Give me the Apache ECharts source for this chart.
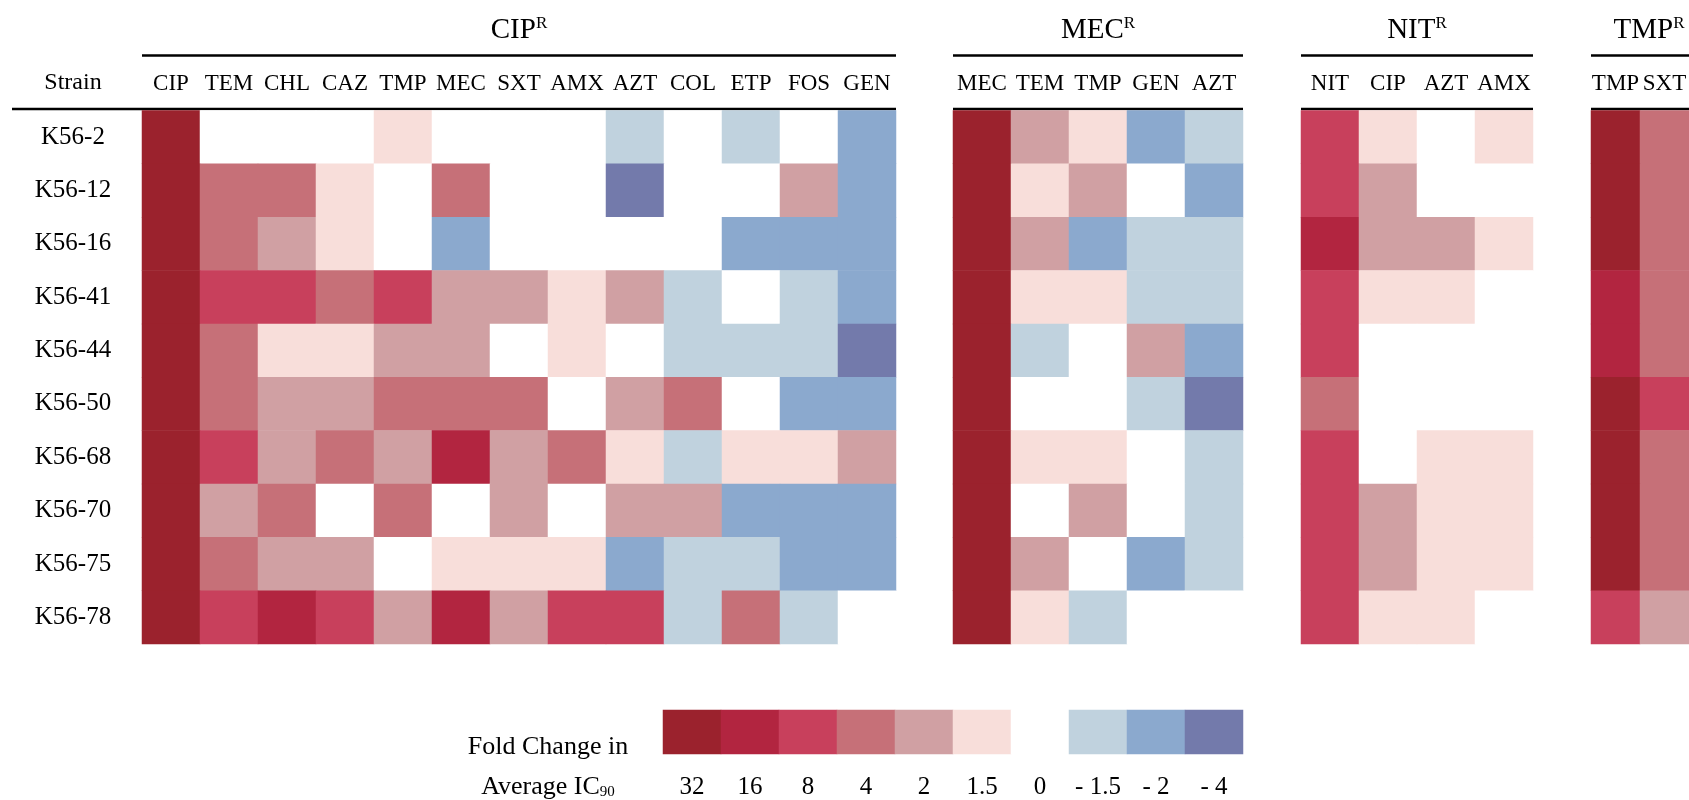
<!DOCTYPE html>
<html>
<head>
<meta charset="utf-8">
<script src="https://cdn.jsdelivr.net/npm/echarts@6/dist/echarts.min.js"></script>
<style>
  html, body { margin: 0; padding: 0; background: #ffffff; }
  #chart { width: 1689px; height: 800px; }
</style>
</head>
<body>
<div id="chart"></div>
<script>
// Strains (rows) shared by every panel
const strains = ['K56-2', 'K56-12', 'K56-16', 'K56-41', 'K56-44', 'K56-50', 'K56-68', 'K56-70', 'K56-75', 'K56-78'];

// CIP-resistant panel
const cipDrugs = ['CIP', 'TEM', 'CHL', 'CAZ', 'TMP', 'MEC', 'SXT', 'AMX', 'AZT', 'COL', 'ETP', 'FOS', 'GEN'];
const cipFold = [
  [32, 0, 0, 0, 1.5, 0, 0, 0, -1.5, 0, -1.5, 0, -2],
  [32, 4, 4, 1.5, 0, 4, 0, 0, -4, 0, 0, 2, -2],
  [32, 4, 2, 1.5, 0, -2, 0, 0, 0, 0, -2, -2, -2],
  [32, 8, 8, 4, 8, 2, 2, 1.5, 2, -1.5, 0, -1.5, -2],
  [32, 4, 1.5, 1.5, 2, 2, 0, 1.5, 0, -1.5, -1.5, -1.5, -4],
  [32, 4, 2, 2, 4, 4, 4, 0, 2, 4, 0, -2, -2],
  [32, 8, 2, 4, 2, 16, 2, 4, 1.5, -1.5, 1.5, 1.5, 2],
  [32, 2, 4, 0, 4, 0, 2, 0, 2, 2, -2, -2, -2],
  [32, 4, 2, 2, 0, 1.5, 1.5, 1.5, -2, -1.5, -1.5, -2, -2],
  [32, 8, 16, 8, 2, 16, 2, 8, 8, -1.5, 4, -1.5, 0]
];

// MEC-resistant panel
const mecDrugs = ['MEC', 'TEM', 'TMP', 'GEN', 'AZT'];
const mecFold = [
  [32, 2, 1.5, -2, -1.5],
  [32, 1.5, 2, 0, -2],
  [32, 2, -2, -1.5, -1.5],
  [32, 1.5, 1.5, -1.5, -1.5],
  [32, -1.5, 0, 2, -2],
  [32, 0, 0, -1.5, -4],
  [32, 1.5, 1.5, 0, -1.5],
  [32, 0, 2, 0, -1.5],
  [32, 2, 0, -2, -1.5],
  [32, 1.5, -1.5, 0, 0]
];

// NIT-resistant panel
const nitDrugs = ['NIT', 'CIP', 'AZT', 'AMX'];
const nitFold = [
  [8, 1.5, 0, 1.5],
  [8, 2, 0, 0],
  [16, 2, 2, 1.5],
  [8, 1.5, 1.5, 0],
  [8, 0, 0, 0],
  [4, 0, 0, 0],
  [8, 0, 1.5, 1.5],
  [8, 2, 1.5, 1.5],
  [8, 2, 1.5, 1.5],
  [8, 1.5, 1.5, 0]
];

// TMP-resistant panel
const tmpDrugs = ['TMP', 'SXT'];
const tmpFold = [
  [32, 4], [32, 4], [32, 4], [16, 4], [16, 4],
  [32, 8], [32, 4], [32, 4], [32, 4], [8, 2]
];

// Colour scale
const scaleLabels = ['32', '16', '8', '4', '2', '1.5', '0', '- 1.5', '- 2', '- 4'];
const scaleValues = [32, 16, 8, 4, 2, 1.5, 0, -1.5, -2, -4];
const scaleColors = ['#9b222d', '#b22540', '#c8405c', '#c67078', '#d0a0a3', '#f8deda', '#ffffff', '#c0d2de', '#8ba9ce', '#737aab'];

// ---- layout ----
const FONT = '"Liberation Serif", "Times New Roman", serif';
const CELL_W = 58;
const GRID_TOP = 110.5;
const GRID_H = 533.5;
const LINE_TOP_Y = 55.5;
const LINE_HEAD_Y = 109;

const panels = [
  { title: 'CIP', drugs: cipDrugs, fold: cipFold, left: 142 },
  { title: 'MEC', drugs: mecDrugs, fold: mecFold, left: 953 },
  { title: 'NIT', drugs: nitDrugs, fold: nitFold, left: 1301 },
  { title: 'TMP', drugs: tmpDrugs, fold: tmpFold, left: 1591 }
];

const grid = [], xAxis = [], yAxis = [], series = [], graphic = [];

panels.forEach((p, i) => {
  const w = CELL_W * p.drugs.length;
  grid.push({ left: p.left, top: GRID_TOP, width: w, height: GRID_H });
  xAxis.push({
    type: 'category', gridIndex: i, data: p.drugs, position: 'top',
    axisLine: { show: false }, axisTick: { show: false }, splitLine: { show: false },
    axisLabel: { color: '#000', fontFamily: FONT, fontSize: 23, margin: 15, interval: 0 }
  });
  yAxis.push({
    type: 'category', gridIndex: i, data: strains, inverse: true,
    axisLine: { show: false }, axisTick: { show: false }, splitLine: { show: false },
    axisLabel: i === 0
      ? { color: '#000', fontFamily: FONT, fontSize: 25, margin: 69, align: 'center' }
      : { show: false }
  });
  const data = [];
  p.fold.forEach((row, r) => row.forEach((v, c) => data.push([c, r, v])));
  series.push({
    type: 'heatmap', xAxisIndex: i, yAxisIndex: i, data: data,
    itemStyle: { borderWidth: 0 }, emphasis: { disabled: true }, silent: true
  });

  // header rules
  graphic.push({
    type: 'line', silent: true,
    shape: { x1: p.left, y1: LINE_TOP_Y, x2: p.left + w, y2: LINE_TOP_Y },
    style: { stroke: '#000', lineWidth: 2.5 }
  });
  graphic.push({
    type: 'line', silent: true,
    shape: { x1: i === 0 ? 12 : p.left, y1: LINE_HEAD_Y, x2: p.left + w, y2: LINE_HEAD_Y },
    style: { stroke: '#000', lineWidth: 2.5 }
  });
  // panel title with superscript R
  graphic.push({
    type: 'text', silent: true, x: p.left + w / 2, y: 30,
    style: {
      text: '{a|' + p.title + '}{s|R}',
      align: 'center', verticalAlign: 'middle', fill: '#000',
      rich: {
        a: { fontFamily: FONT, fontSize: 29, lineHeight: 29, fill: '#000' },
        s: { fontFamily: FONT, fontSize: 17, lineHeight: 17, verticalAlign: 'top', fill: '#000' }
      }
    }
  });
});

// row header label
graphic.push({
  type: 'text', silent: true, x: 73, y: 83,
  style: { text: 'Strain', fontFamily: FONT, fontSize: 24, fill: '#000', align: 'center', verticalAlign: 'middle' }
});

// colour scale key, drawn as a one-row heatmap
const keyIndex = panels.length;
grid.push({ left: 663, top: 710, width: CELL_W * scaleValues.length, height: 54 });
xAxis.push({
  type: 'category', gridIndex: keyIndex, data: scaleLabels, position: 'bottom',
  axisLine: { show: false }, axisTick: { show: false }, splitLine: { show: false },
  axisLabel: { color: '#000', fontFamily: FONT, fontSize: 25, margin: 21, interval: 0 }
});
yAxis.push({
  type: 'category', gridIndex: keyIndex, data: [''],
  axisLine: { show: false }, axisTick: { show: false }, axisLabel: { show: false }
});
series.push({
  type: 'heatmap', xAxisIndex: keyIndex, yAxisIndex: keyIndex,
  data: scaleValues.map((v, i) => [i, 0, v]),
  itemStyle: { borderWidth: 0 }, emphasis: { disabled: true }, silent: true
});

graphic.push({
  type: 'text', silent: true, x: 548, y: 747,
  style: { text: 'Fold Change in', fontFamily: FONT, fontSize: 26, fill: '#000', align: 'center', verticalAlign: 'middle' }
});
graphic.push({
  type: 'text', silent: true, x: 548, y: 787,
  style: {
    text: '{n|Average IC}{b|90}', align: 'center', verticalAlign: 'middle', fill: '#000',
    rich: {
      n: { fontFamily: FONT, fontSize: 26, lineHeight: 26, fill: '#000' },
      b: { fontFamily: FONT, fontSize: 15, lineHeight: 15, verticalAlign: 'bottom', fill: '#000' }
    }
  }
});

const chart = echarts.init(document.getElementById('chart'), null, { renderer: 'canvas' });
chart.setOption({
  backgroundColor: '#ffffff',
  animation: false,
  grid: grid,
  xAxis: xAxis,
  yAxis: yAxis,
  visualMap: {
    type: 'piecewise', show: false, dimension: 2,
    seriesIndex: series.map((s, i) => i),
    pieces: scaleValues.map((v, i) => ({ value: v, color: scaleColors[i] }))
  },
  series: series,
  graphic: graphic
});
</script>
</body>
</html>
